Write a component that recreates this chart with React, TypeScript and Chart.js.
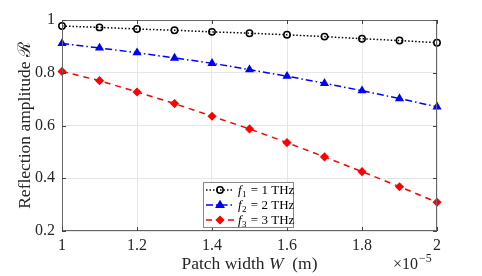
import React, { useEffect, useRef } from "react";
import { Chart, registerables } from "chart.js";

Chart.register(...registerables);

// Patch width W in units of 1e-5 m
const widths = [1.0, 1.1, 1.2, 1.3, 1.4, 1.5, 1.6, 1.7, 1.8, 1.9, 2.0];
const f1Values = [0.977, 0.972, 0.966, 0.961, 0.955, 0.950, 0.944, 0.937, 0.929, 0.922, 0.914];
const f2Values = [0.911, 0.894, 0.876, 0.856, 0.836, 0.812, 0.787, 0.760, 0.732, 0.702, 0.671];
const f3Values = [0.805, 0.770, 0.727, 0.683, 0.635, 0.587, 0.535, 0.481, 0.425, 0.368, 0.309];
const seriesSub = ["1", "2", "3"];
const seriesFreq = ["1 THz", "2 THz", "3 THz"];
const xTicks = [1, 1.2, 1.4, 1.6, 1.8, 2];
const yTicks = [0.2, 0.4, 0.6, 0.8, 1];

const FONT = "'Liberation Serif', 'DejaVu Serif', serif";

const styles = [
  { color: "#000000", dash: [1.5, 2], point: "circle", radius: 3.2, fill: "rgba(0,0,0,0)" },
  { color: "#0000ff", dash: [7, 3, 1.5, 3], point: "triangle", radius: 3.8, fill: "#0000ff" },
  { color: "#ff0000", dash: [6, 5], point: "rectRot", radius: 3.5, fill: "#ff0000" },
];

const fmt = (v: number) => String(parseFloat(Number(v).toFixed(1)));

function drawMarker(ctx: CanvasRenderingContext2D, type: string, x: number, y: number, r: number, stroke: string, fill: string) {
  ctx.save();
  ctx.strokeStyle = stroke;
  ctx.fillStyle = fill;
  ctx.lineWidth = 1.5;
  ctx.beginPath();
  if (type === "circle") {
    ctx.arc(x, y, r, 0, Math.PI * 2);
  } else if (type === "triangle") {
    ctx.moveTo(x, y - r);
    ctx.lineTo(x + r * 0.95, y + r * 0.6);
    ctx.lineTo(x - r * 0.95, y + r * 0.6);
    ctx.closePath();
  } else {
    ctx.moveTo(x, y - r);
    ctx.lineTo(x + r, y);
    ctx.lineTo(x, y + r);
    ctx.lineTo(x - r, y);
    ctx.closePath();
  }
  ctx.fill();
  ctx.stroke();
  ctx.restore();
}

const decorPlugin = {
  id: "decor",
  afterDraw(chart: any) {
    const { ctx, chartArea } = chart;
    const { left, right, top, bottom } = chartArea;
    const xs = chart.scales.x;
    const ys = chart.scales.y;
    ctx.save();
    // box
    ctx.strokeStyle = "#666666";
    ctx.lineWidth = 1;
    ctx.setLineDash([]);
    ctx.strokeRect(left + 0.5, top + 0.5, right - left - 1, bottom - top - 1);
    // inner ticks
    ctx.strokeStyle = "#444444";
    ctx.beginPath();
    const tl = 4;
    xTicks.forEach((t) => {
      const px = Math.round(xs.getPixelForValue(t)) + 0.5;
      ctx.moveTo(px, bottom);
      ctx.lineTo(px, bottom - tl);
      ctx.moveTo(px, top);
      ctx.lineTo(px, top + tl);
    });
    yTicks.forEach((t) => {
      const py = Math.round(ys.getPixelForValue(t)) + 0.5;
      ctx.moveTo(left, py);
      ctx.lineTo(left + tl, py);
      ctx.moveTo(right, py);
      ctx.lineTo(right - tl, py);
    });
    ctx.stroke();

    // axis titles
    ctx.fillStyle = "#262626";
    ctx.textBaseline = "alphabetic";
    const p1 = "Patch width ";
    const p3 = "  (m)";
    ctx.font = `17.5px ${FONT}`;
    const w1 = ctx.measureText(p1).width;
    const w3 = ctx.measureText(p3).width;
    ctx.font = `italic 17.5px ${FONT}`;
    const w2 = ctx.measureText("W").width;
    const cx = (left + right) / 2;
    const x0 = cx - (w1 + w2 + w3) / 2;
    const by = 269;
    ctx.textAlign = "left";
    ctx.font = `17.5px ${FONT}`;
    ctx.fillText(p1, x0, by);
    ctx.font = `italic 17.5px ${FONT}`;
    ctx.fillText("W", x0 + w1, by);
    ctx.font = `17.5px ${FONT}`;
    ctx.fillText(p3, x0 + w1 + w2, by);

    // x10^-5
    ctx.font = `16px ${FONT}`;
    ctx.fillText("\u00d710", 393, 269);
    const wx = ctx.measureText("\u00d710").width;
    ctx.font = `12px ${FONT}`;
    ctx.fillText("\u22125", 393 + wx + 1, 262);

    // y title
    ctx.save();
    ctx.translate(30, (top + bottom) / 2);
    ctx.rotate(-Math.PI / 2);
    ctx.textAlign = "center";
    ctx.font = `17.5px ${FONT}`;
    ctx.fillText("Reflection amplitude \u211b", 0, 0);
    ctx.restore();

    // legend
    const lx = 203, ly = 182, lw = 90, lh = 45;
    ctx.fillStyle = "#ffffff";
    ctx.fillRect(lx, ly, lw, lh);
    ctx.strokeStyle = "#888888";
    ctx.lineWidth = 1;
    ctx.strokeRect(lx + 0.5, ly + 0.5, lw, lh);
    styles.forEach((s, i) => {
      const rowY = ly + 8 + i * 15;
      ctx.strokeStyle = s.color;
      ctx.lineWidth = 1.5;
      ctx.setLineDash(s.dash);
      ctx.beginPath();
      ctx.moveTo(lx + 3, rowY);
      ctx.lineTo(lx + 31, rowY);
      ctx.stroke();
      ctx.setLineDash([]);
      drawMarker(ctx, s.point, lx + 17, rowY, s.radius, s.color, s.fill);
      ctx.fillStyle = "#000000";
      ctx.textAlign = "left";
      let tx = lx + 35;
      const tb = rowY + 4;
      ctx.font = `italic 13px ${FONT}`;
      ctx.fillText("f", tx, tb);
      tx += ctx.measureText("f").width + 0.5;
      ctx.font = `9px ${FONT}`;
      ctx.fillText(seriesSub[i], tx, tb + 3);
      tx += ctx.measureText(seriesSub[i]).width + 1;
      ctx.font = `13px ${FONT}`;
      ctx.fillText(" = " + seriesFreq[i], tx, tb);
    });
    ctx.restore();
  },
};

export default function App() {
  const ref = useRef<HTMLCanvasElement>(null);
  useEffect(() => {
    document.body.style.margin = "0";
    const series = [f1Values, f2Values, f3Values];
    const chart = new Chart(ref.current!, {
      type: "line",
      data: {
        datasets: series.map((vals, i) => ({
          label: `f${seriesSub[i]} = ${seriesFreq[i]}`,
          data: widths.map((w, j) => ({ x: w, y: vals[j] })),
          borderColor: styles[i].color,
          borderWidth: 1.5,
          borderDash: styles[i].dash,
          pointStyle: styles[i].point as any,
          pointRadius: styles[i].radius,
          pointBorderWidth: 1.5,
          pointBorderColor: styles[i].color,
          pointBackgroundColor: styles[i].fill,
          fill: false,
          tension: 0,
          clip: false as any,
        })),
      },
      options: {
        animation: false,
        responsive: false,
        layout: { padding: { left: 0, right: 45, top: 20, bottom: 0 } },
        plugins: { legend: { display: false }, tooltip: { enabled: false } },
        scales: {
          x: {
            type: "linear",
            min: 1,
            max: 2,
            afterBuildTicks: (s: any) => {
              s.ticks = xTicks.map((v) => ({ value: v }));
            },
            afterFit: (s: any) => {
              s.height = 45;
            },
            ticks: {
              callback: (v: any) => fmt(v),
              font: { family: FONT, size: 16 },
              color: "#262626",
              padding: 5,
              maxRotation: 0,
            },
            grid: { color: "#e6e6e6", drawTicks: false },
            border: { display: false },
          },
          y: {
            type: "linear",
            min: 0.2,
            max: 1,
            afterBuildTicks: (s: any) => {
              s.ticks = yTicks.map((v) => ({ value: v }));
            },
            afterFit: (s: any) => {
              s.width = 62;
            },
            ticks: {
              callback: (v: any) => fmt(v),
              font: { family: FONT, size: 16 },
              color: "#262626",
              padding: 7,
            },
            grid: { color: "#e6e6e6", drawTicks: false },
            border: { display: false },
          },
        },
      },
      plugins: [decorPlugin],
    });
    return () => chart.destroy();
  }, []);
  return (
    <div style={{ position: "fixed", left: 0, top: 0, width: 482, height: 276, background: "#fff" }}>
      <canvas ref={ref} width={482} height={276} />
    </div>
  );
}
